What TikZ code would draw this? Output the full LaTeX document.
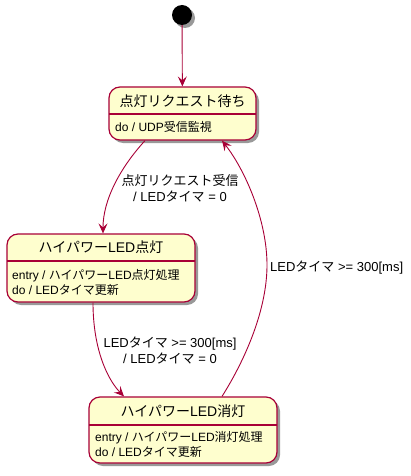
\documentclass[tikz,border=0pt]{standalone}
\usepackage{fontspec}
\setmainfont{Noto Sans CJK JP}
\newfontfamily\latfont{Liberation Sans}
\newcommand\la[1]{{\latfont #1}}
\usetikzlibrary{arrows.meta,shadows}
\definecolor{umlred}{HTML}{A80036}
\definecolor{umlfill}{HTML}{FEFECE}
\tikzset{
 statebox/.style={draw=umlred, fill=umlfill, line width=1.2pt, rounded corners=11pt, inner sep=0,
   drop shadow={shadow xshift=3pt, shadow yshift=-3pt, opacity=0.4, fill=black}},
 divider/.style={draw=umlred, line width=1.2pt},
 titletext/.style={font=\fontsize{14}{17}\selectfont, inner sep=0},
 desctext/.style={font=\fontsize{12}{15}\selectfont, inner sep=0, anchor=west, align=left},
 lbl/.style={font=\fontsize{13}{16}\selectfont, inner sep=0, align=center},
 trans/.style={draw=umlred, line width=0.9pt, -{Stealth[length=10pt,width=9pt,inset=4pt]}},
}
\begin{document}
\begin{tikzpicture}[x=1pt,y=-1pt]
\useasboundingbox (0,0) rectangle (411,476);
% start
\node[circle, fill=black, minimum size=20pt, inner sep=0,
  drop shadow={shadow xshift=3pt, shadow yshift=-3pt, opacity=0.4, fill=black}] (start) at (182,15) {};
% state 1
\node[statebox, minimum width=147pt, minimum height=53pt] (s1) at (182.5,113.5) {};
\coordinate (s1l) at (109,114);
\coordinate (s1r) at (256,114);
\draw[divider] (s1l) -- (s1r);
\node[titletext] (s1t) at (182.5,101) {点灯リクエスト待ち};
\node[desctext] (s1d) at (115,127) {\la{do / UDP}受信監視};
% state 2
\node[statebox, minimum width=188pt, minimum height=68pt] (s2) at (101,268) {};
\coordinate (s2l) at (7,261);
\coordinate (s2r) at (195,261);
\draw[divider] (s2l) -- (s2r);
\node[titletext] (s2t) at (101,247) {ハイパワー\la{LED}点灯};
\node[desctext] (s2d) at (12,282) {\la{entry / }ハイパワー\la{LED}点灯処理\\\la{do / LED}タイマ更新};
% state 3
\node[statebox, minimum width=188pt, minimum height=66pt] (s3) at (183,430) {};
\coordinate (s3l) at (89,425);
\coordinate (s3r) at (277,425);
\draw[divider] (s3l) -- (s3r);
\node[titletext] (s3t) at (183,411) {ハイパワー\la{LED}消灯};
\node[desctext] (s3d) at (95,444.5) {\la{entry / }ハイパワー\la{LED}消灯処理\\\la{do / LED}タイマ更新};
% transitions
\draw[trans] (start) -- (s1);
\draw[trans] ([xshift=-37.5pt]s1.south) .. controls (120,168) and (103,200) .. ([xshift=2pt]s2.north);
\draw[trans] ([xshift=-8pt]s2.south) .. controls (93,350) and (108,380) .. ([xshift=-59pt]s3.north);
\draw[trans] ([xshift=39pt]s3.north) .. controls (245,360) and (267,310) .. (267,265)
   .. controls (267,220) and (245,170) .. ([xshift=39.5pt]s1.south);
% labels
\node[lbl] (l1) at (180,188) {点灯リクエスト受信\\\la{/ LED}タイマ\la{ = 0}};
\node[lbl] (l2) at (170,350) {\la{LED}タイマ\la{ >= 300[ms]}\\\la{/ LED}タイマ\la{ = 0}};
\node[lbl, anchor=west] (l3) at (270,268) {\la{LED}タイマ\la{ >= 300[ms]}};
\end{tikzpicture}
\end{document}
